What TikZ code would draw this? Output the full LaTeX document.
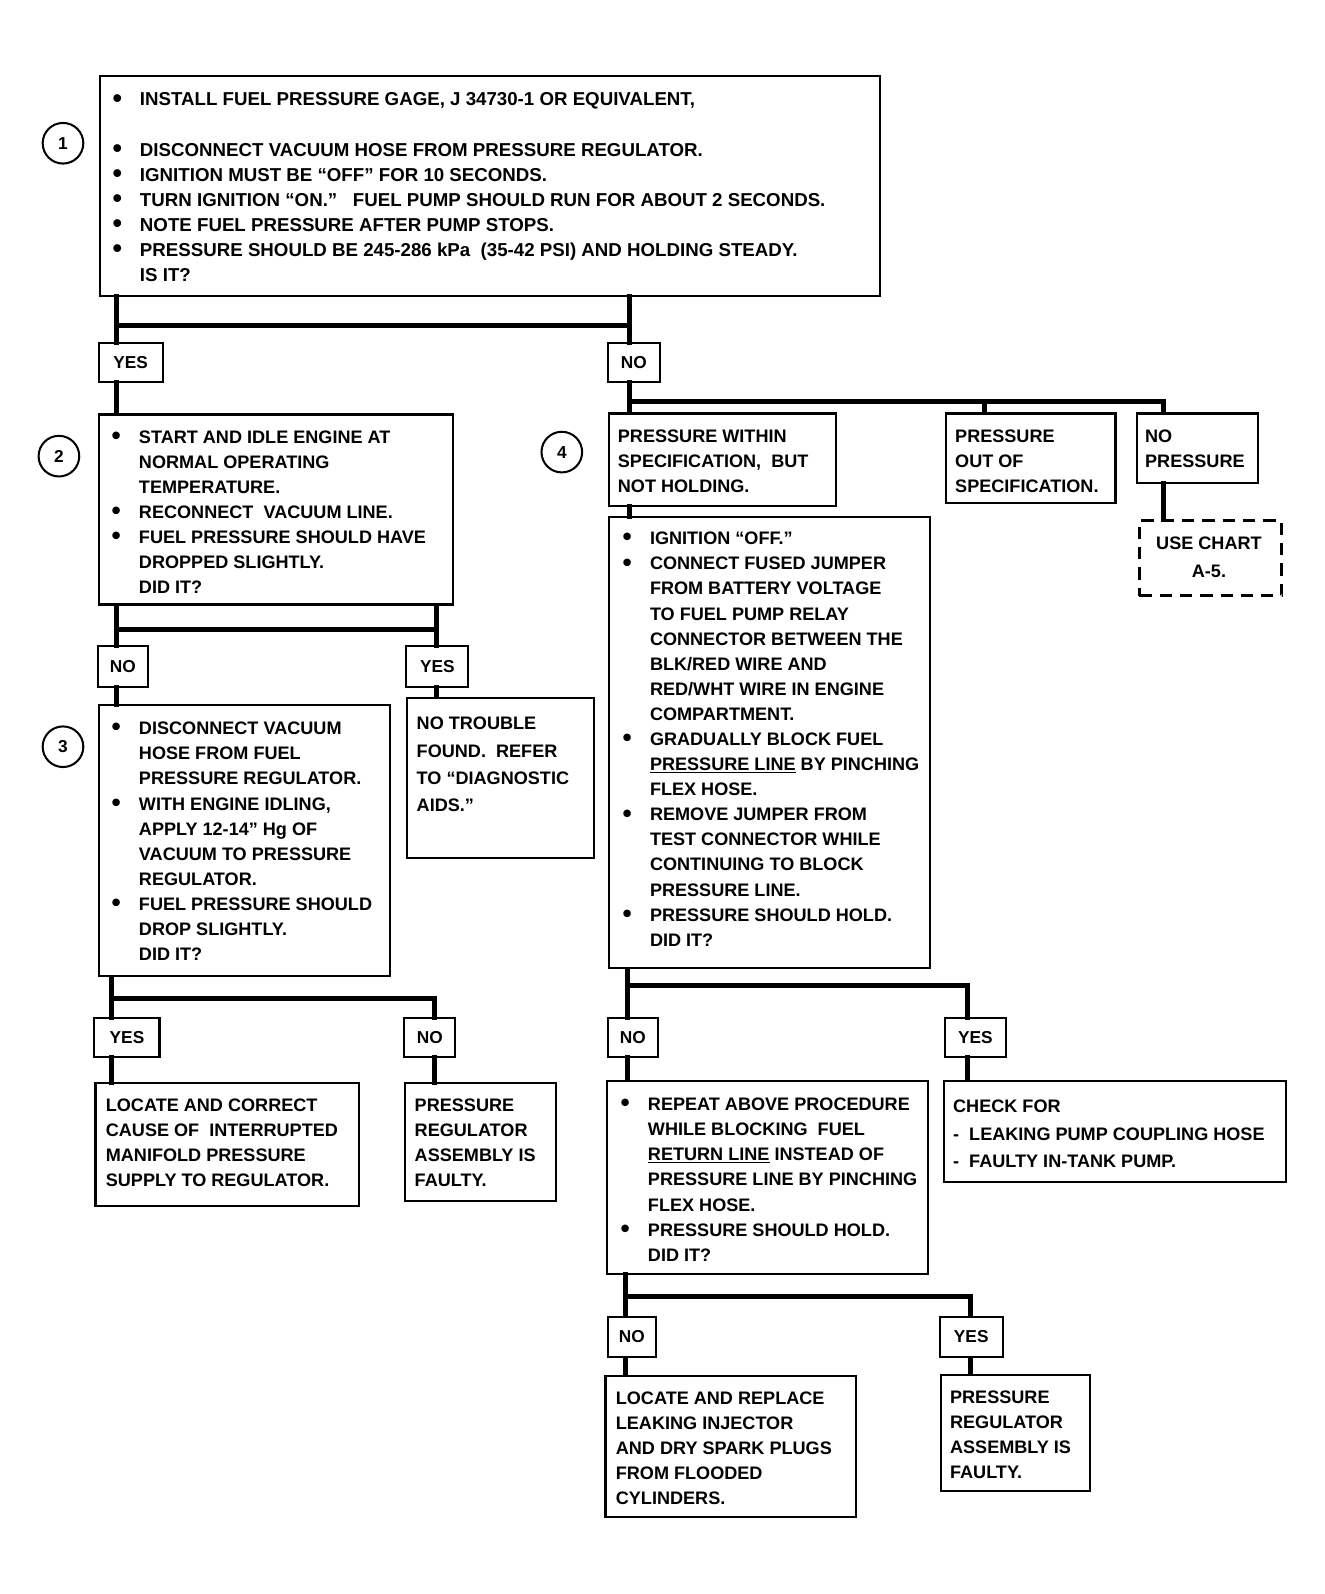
\documentclass[tikz,border=0pt]{standalone}
\usepackage{fontspec}
\setmainfont{Liberation Sans}
\newcommand{\bul}{\makebox[27pt][l]{\raisebox{-1.2pt}{\scalebox{1.45}{\textbullet}}}}
\newcommand{\myind}{\hspace*{27pt}}
\newcommand{\fst}{\rule{0pt}{14pt}}
\begin{document}
\begin{tikzpicture}[x=1pt,y=-1pt,
  box/.style={draw, line width=2pt, rectangle, anchor=north west, inner sep=0pt},
  dbox/.style={box, dash pattern=on 12pt off 8pt, line width=3pt},
  lbl/.style={draw, line width=2pt, rectangle, inner sep=0pt, font=\bfseries\fontsize{17}{20}\selectfont},
  txt/.style={anchor=north west, inner sep=0pt, align=left, font=\bfseries\fontsize{17.8}{24.7}\selectfont},
  txtb/.style={txt, font=\bfseries\fontsize{18.4}{24.7}\selectfont},
  txtw/.style={txt, font=\bfseries\fontsize{17.8}{27}\selectfont},
  conn/.style={line width=5pt, line cap=rect},
  num/.style={draw, circle, line width=2pt, minimum size=40pt, inner sep=0pt, font=\bfseries\fontsize{17}{20}\selectfont}]
\useasboundingbox (0,0) rectangle (1304,1569);
\fill[white] (0,0) rectangle (1304,1569);

% ---- boxes ----
\node[box, minimum width=768, minimum height=216] (b1) at (97,74) {};
\node[box, minimum width=349, minimum height=187] (b2) at (96,407) {};
\node[box, minimum width=287, minimum height=267] (b3) at (96,693) {};
\node[box, minimum width=184, minimum height=158] (nt) at (400,686) {};
\node[box, minimum width=259, minimum height=121] (lc) at (93,1065) {};
\node[box, minimum width=148, minimum height=116] (pr1) at (398,1065) {};
\node[box, minimum width=224, minimum height=91] (pw) at (598,406) {};
\node[box, minimum width=167, minimum height=88] (po) at (930,406) {};
\node[box, minimum width=119, minimum height=68] (np) at (1118,406) {};
\node[dbox, minimum width=140, minimum height=74] (uc) at (1120,511) {};
\node[box, minimum width=316, minimum height=444] (b4) at (598,508) {};
\node[box, minimum width=316, minimum height=190] (b5) at (596,1063) {};
\node[box, minimum width=337, minimum height=99] (cf) at (928,1063) {};
\node[box, minimum width=247, minimum height=139] (b6) at (595,1353) {};
\node[box, minimum width=147, minimum height=115] (pr2) at (925,1352) {};

% ---- labels ----
\node[lbl, minimum width=63, minimum height=38] (yes1) at (128.5,357) {YES};
\node[lbl, minimum width=52, minimum height=38] (no1) at (624,357) {NO};
\node[lbl, minimum width=50, minimum height=40] (no2) at (121,656) {NO};
\node[lbl, minimum width=61, minimum height=40] (yes2) at (430.5,656) {YES};
\node[lbl, minimum width=64, minimum height=38] (yes3) at (125,1021) {YES};
\node[lbl, minimum width=50, minimum height=38] (no3) at (423,1021) {NO};
\node[lbl, minimum width=50, minimum height=38] (no4) at (623,1021) {NO};
\node[lbl, minimum width=60, minimum height=38] (yes4) at (960,1021) {YES};
\node[lbl, minimum width=48, minimum height=40] (no5) at (622,1316) {NO};
\node[lbl, minimum width=62, minimum height=40] (yes5) at (956,1316) {YES};

% ---- step numbers ----
\node[num] (n1) at (62,141) {1};
\node[num] (n2) at (58,449) {2};
\node[num] (n3) at (62,735) {3};
\node[num] (n4) at (553,445) {4};

% ---- texts ----
\node[txtb] (t1) at (110.6,90) {\fst\bul INSTALL FUEL PRESSURE GAGE, J 34730-1 OR EQUIVALENT,\\[24.7pt]
\bul DISCONNECT VACUUM HOSE FROM PRESSURE REGULATOR.\\
\bul IGNITION MUST BE “OFF” FOR 10 SECONDS.\\
\bul TURN IGNITION “ON.”\ \ \ FUEL PUMP SHOULD RUN FOR ABOUT 2 SECONDS.\\
\bul NOTE FUEL PRESSURE AFTER PUMP STOPS.\\
\bul PRESSURE SHOULD BE 245-286 kPa\ \ (35-42 PSI) AND HOLDING STEADY.\\
\myind IS IT?};

\node[txt] (t2) at (109.6,422) {\fst\bul START AND IDLE ENGINE AT\\
\myind NORMAL OPERATING\\
\myind TEMPERATURE.\\
\bul RECONNECT\ \ VACUUM LINE.\\
\bul FUEL PRESSURE SHOULD HAVE\\
\myind DROPPED SLIGHTLY.\\
\myind DID IT?};

\node[txt] (t3) at (109.6,709) {\fst\bul DISCONNECT VACUUM\\
\myind HOSE FROM FUEL\\
\myind PRESSURE REGULATOR.\\
\bul WITH ENGINE IDLING,\\
\myind APPLY 12-14” Hg OF\\
\myind VACUUM TO PRESSURE\\
\myind REGULATOR.\\
\bul FUEL PRESSURE SHOULD\\
\myind DROP SLIGHTLY.\\
\myind DID IT?};

\node[txtw] (tnt) at (410,704) {\fst NO TROUBLE\\ FOUND.\ \ REFER\\ TO “DIAGNOSTIC\\ AIDS.”};

\node[txt] (tlc) at (104,1080) {\fst LOCATE AND CORRECT\\ CAUSE OF\ \ INTERRUPTED\\ MANIFOLD PRESSURE\\ SUPPLY TO REGULATOR.};
\node[txt] (tpr1) at (408,1080) {\fst PRESSURE\\ REGULATOR\\ ASSEMBLY IS\\ FAULTY.};

\node[txt] (tpw) at (608,421) {\fst PRESSURE WITHIN\\ SPECIFICATION,\ \ BUT\\ NOT HOLDING.};
\node[txt] (tpo) at (940,421) {\fst PRESSURE\\ OUT OF\\ SPECIFICATION.};
\node[txt] (tnp) at (1127,421) {\fst NO\\ PRESSURE};
\node[txtw, anchor=north, align=center] (tuc) at (1190,527) {\fst USE CHART\\ A-5.};

\node[txt] (t4) at (612.6,522) {\fst\bul IGNITION “OFF.”\\
\bul CONNECT FUSED JUMPER\\
\myind FROM BATTERY VOLTAGE\\
\myind TO FUEL PUMP RELAY\\
\myind CONNECTOR BETWEEN THE\\
\myind BLK/RED WIRE AND\\
\myind RED/WHT WIRE IN ENGINE\\
\myind COMPARTMENT.\\
\bul GRADUALLY BLOCK FUEL\\
\myind \underline{PRESSURE LINE} BY PINCHING\\
\myind FLEX HOSE.\\
\bul REMOVE JUMPER FROM\\
\myind TEST CONNECTOR WHILE\\
\myind CONTINUING TO BLOCK\\
\myind PRESSURE LINE.\\
\bul PRESSURE SHOULD HOLD.\\
\myind DID IT?};

\node[txt] (t5) at (610.6,1079) {\fst\bul REPEAT ABOVE PROCEDURE\\
\myind WHILE BLOCKING\ \ FUEL\\
\myind \underline{RETURN LINE} INSTEAD OF\\
\myind PRESSURE LINE BY PINCHING\\
\myind FLEX HOSE.\\
\bul PRESSURE SHOULD HOLD.\\
\myind DID IT?};

\node[txtw] (tcf) at (938,1081) {\fst CHECK FOR\\ -\ \ LEAKING PUMP COUPLING HOSE\\ -\ \ FAULTY IN-TANK PUMP.};

\node[txt] (t6) at (606,1368) {\fst LOCATE AND REPLACE\\ LEAKING INJECTOR\\ AND DRY SPARK PLUGS\\ FROM FLOODED\\ CYLINDERS.};
\node[txt] (t7) at (935,1367) {\fst PRESSURE\\ REGULATOR\\ ASSEMBLY IS\\ FAULTY.};

% ---- junction coordinates ----
\coordinate (j1L) at (115,320);  \coordinate (j1R) at (620,320);
\coordinate (j2L) at (115,620);  \coordinate (j2R) at (430,620);
\coordinate (j3L) at (110,983);  \coordinate (j3R) at (428,983);
\coordinate (j4a) at (620,395);  \coordinate (j4b) at (969,395); \coordinate (j4c) at (1145,395);
\coordinate (j5L) at (618,970);  \coordinate (j5R) at (952,970);
\coordinate (j6L) at (616,1276); \coordinate (j6R) at (955,1276);

% ---- connectors ----
\draw[conn] (b1.south -| j1L) -- (yes1.north -| j1L);
\draw[conn] (b1.south -| j1R) -- (no1.north -| j1R);
\draw[conn] (j1L) -- (j1R);
\draw[conn] (yes1.south -| j1L) -- (b2.north -| j1L);

\draw[conn] (no1.south -| j4a) -- (pw.north -| j4a);
\draw[conn] (j4a) -- (j4c);
\draw[conn] (j4b) -- (po.north -| j4b);
\draw[conn] (j4c) -- (np.north -| j4c);
\draw[conn] (np.south -| j4c) -- (uc.north -| j4c);
\draw[conn] (pw.south -| j4a) -- (b4.north -| j4a);

\draw[conn] (b2.south -| j2L) -- (no2.north -| j2L);
\draw[conn] (b2.south -| j2R) -- (yes2.north -| j2R);
\draw[conn] (j2L) -- (j2R);
\draw[conn] (no2.south -| j2L) -- (b3.north -| j2L);
\draw[conn] (yes2.south -| j2R) -- (nt.north -| j2R);

\draw[conn] (b3.south -| j3L) -- (yes3.north -| j3L);
\draw[conn] (j3L) -- (j3R) -- (no3.north -| j3R);
\draw[conn] (yes3.south -| j3L) -- (lc.north -| j3L);
\draw[conn] (no3.south -| j3R) -- (pr1.north -| j3R);

\draw[conn] (b4.south -| j5L) -- (no4.north -| j5L);
\draw[conn] (j5L) -- (j5R) -- (yes4.north -| j5R);
\draw[conn] (no4.south -| j5L) -- (b5.north -| j5L);
\draw[conn] (yes4.south -| j5R) -- (cf.north -| j5R);

\draw[conn] (b5.south -| j6L) -- (no5.north -| j6L);
\draw[conn] (j6L) -- (j6R) -- (yes5.north -| j6R);
\draw[conn] (no5.south -| j6L) -- (b6.north -| j6L);
\draw[conn] (yes5.south -| j6R) -- (pr2.north -| j6R);
\end{tikzpicture}
\end{document}
